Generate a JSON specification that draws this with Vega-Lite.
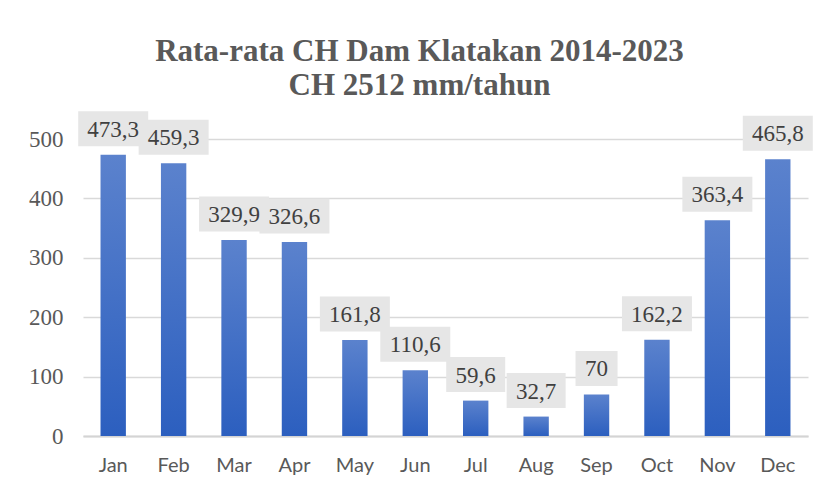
{
  "$schema": "https://vega.github.io/schema/vega-lite/v6.json",
  "width": 725,
  "height": 297,
  "autosize": {"type": "none"},
  "padding": {"left": 83, "top": 139, "right": 15, "bottom": 55},
  "background": "white",
  "data": {
    "values": [
      {"bulan": "Jan", "ch": 473.3},
      {"bulan": "Feb", "ch": 459.3},
      {"bulan": "Mar", "ch": 329.9},
      {"bulan": "Apr", "ch": 326.6},
      {"bulan": "May", "ch": 161.8},
      {"bulan": "Jun", "ch": 110.6},
      {"bulan": "Jul", "ch": 59.6},
      {"bulan": "Aug", "ch": 32.7},
      {"bulan": "Sep", "ch": 70},
      {"bulan": "Oct", "ch": 162.2},
      {"bulan": "Nov", "ch": 363.4},
      {"bulan": "Dec", "ch": 465.8}
    ]
  },
  "title": {
    "text": ["Rata-rata CH Dam Klatakan 2014-2023", "CH 2512 mm/tahun"],
    "font": "Liberation Serif",
    "fontSize": 31,
    "fontWeight": "bold",
    "color": "#595959",
    "anchor": "middle",
    "frame": "group",
    "baseline": "bottom",
    "offset": -22,
    "dx": -26,
    "lineHeight": 34
  },
  "encoding": {
    "x": {
      "field": "bulan",
      "type": "nominal",
      "sort": null,
      "scale": {"paddingInner": 0.58, "paddingOuter": 0.29},
      "axis": {
        "title": null,
        "labelAngle": 0,
        "labelFont": "Lato",
        "labelFontSize": 20,
        "labelColor": "#595959",
        "labelPadding": 19,
        "ticks": false,
        "domainColor": "#d4d4d4",
        "domainWidth": 2
      }
    },
    "y": {
      "field": "ch",
      "type": "quantitative",
      "scale": {"domain": [0, 500], "nice": false},
      "axis": {
        "title": null,
        "values": [0, 100, 200, 300, 400, 500],
        "labelFont": "Liberation Serif",
        "labelFontSize": 23,
        "labelColor": "#595959",
        "labelPadding": 20,
        "ticks": false,
        "domain": false,
        "gridColor": "#d9d9d9",
        "gridWidth": 1.5
      }
    }
  },
  "layer": [
    {
      "mark": {
        "type": "bar",
        "color": {
          "gradient": "linear",
          "x1": 0, "y1": 0, "x2": 0, "y2": 1,
          "stops": [
            {"offset": 0, "color": "#5b82cd"},
            {"offset": 1, "color": "#2c5fbf"}
          ]
        }
      }
    },
    {
      "mark": {
        "type": "point",
        "filled": true,
        "color": "#e6e6e6",
        "opacity": 1,
        "size": 4,
        "yOffset": -26,
        "clip": false
      },
      "encoding": {
        "shape": {
          "condition": [
            {"test": "datum.ch >= 100", "value": "M-35,-17.5H35V17.5H-35Z"},
            {"test": "datum.ch == 70", "value": "M-21,-17.5H21V17.5H-21Z"}
          ],
          "value": "M-29.5,-17.5H29.5V17.5H-29.5Z"
        }
      }
    },
    {
      "mark": {
        "type": "text",
        "font": "Liberation Serif",
        "fontSize": 23,
        "color": "#404040",
        "baseline": "middle",
        "dy": -25,
        "clip": false
      },
      "encoding": {
        "text": {"field": "ch", "type": "quantitative", "format": ".1~f"}
      }
    }
  ],
  "config": {
    "view": {"stroke": null},
    "locale": {
      "number": {"decimal": ",", "thousands": ".", "grouping": [3], "currency": ["", ""]}
    }
  }
}
